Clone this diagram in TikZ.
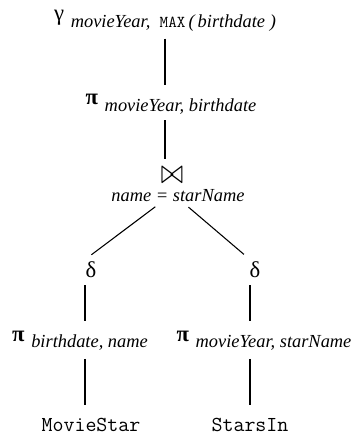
\documentclass[tikz,border=0pt]{standalone}
\usepackage{fontspec}
\setmainfont{Liberation Serif}
\usepackage{amssymb,graphicx}
\usetikzlibrary{positioning,calc}

\newcommand{\gk}[1]{{\fontsize{17}{19}\selectfont #1}}
\newcommand{\lowsub}[1]{\hspace{5pt}\raisebox{-5pt}{\itshape #1}}

\begin{document}
\begin{tikzpicture}[x=0.75pt,y=-0.75pt,
  op/.style={inner sep=1pt,anchor=base,font=\fontsize{13.8}{15}\selectfont},
  rel/.style={inner sep=1pt,anchor=base,font=\fontsize{16}{18}\ttfamily},
  edge/.style={line width=0.8pt}]
  \useasboundingbox (0,0) rectangle (355,434);
  \node[op] (gam) at (165,21)
    {\gk{γ}\lowsub{movieYear,\hspace{7pt}{\upshape\ttfamily\fontsize{12.5}{14}\selectfont MAX}\,(\,birthdate\ )}};
  \node[op] (pj) at (171,105) {\gk{\bfseries π}\lowsub{movieYear, birthdate}};
  \node[inner sep=0pt] (jn) at (172,175) {\scalebox{2}[2.6]{$\bowtie$}};
  \node[op] (cond) at (178,201) {\itshape name = starName};
  \node[op] (dl) at (91,277) {\gk{δ}};
  \node[op] (dr) at (255,277) {\gk{δ}};
  \node[op] (pl) at (80,341) {\gk{\bfseries π}\lowsub{birthdate, name}};
  \node[op] (pr) at (264,341) {\gk{\bfseries π}\lowsub{movieYear, starName}};
  \node[rel] (ms) at (91,431) {MovieStar};
  \node[rel] (si) at (250,431) {StarsIn};
  \draw[edge,shorten <=4pt,shorten >=6pt] (gam.south) -- (gam.south |- pj.north);
  \draw[edge,shorten <=3pt,shorten >=6pt] (gam |- pj.south) -- (gam |- jn.north);
  \draw[edge,shorten <=5pt,shorten >=6pt] (jn.south west |- cond.south) -- (85,0 |- dl.north);
  \draw[edge,shorten <=5pt,shorten >=6pt] (jn.south east |- cond.south) -- (si |- dr.north);
  \draw[edge,shorten <=5pt,shorten >=6pt] (85,0 |- dl.south) -- (85,0 |- pl.north);
  \draw[edge,shorten <=5pt,shorten >=6pt] (si |- dr.south) -- (si |- pr.north);
  \draw[edge,shorten <=5pt,shorten >=8pt] (85,0 |- pl.south) -- (85,0 |- ms.north);
  \draw[edge,shorten <=5pt,shorten >=8pt] (si |- pr.south) -- (si.north);
\end{tikzpicture}
\end{document}
